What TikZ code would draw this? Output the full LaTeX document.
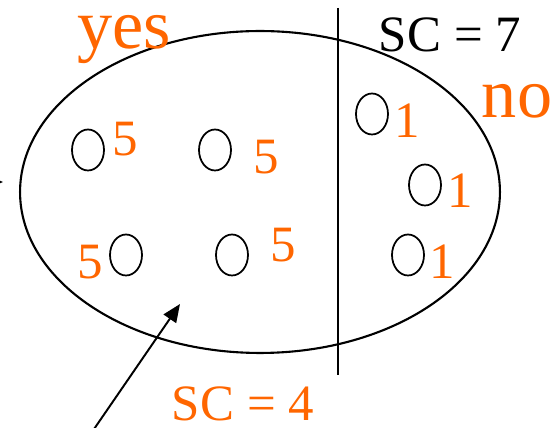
\documentclass[tikz,border=0pt]{standalone}
\usepackage{fontspec}
\setmainfont{Liberation Serif}
\usepackage{xcolor}
\definecolor{vorange}{RGB}{255, 102, 0}
\usetikzlibrary{shapes, arrows.meta, positioning}

\begin{document}
\begin{tikzpicture}[
    x=0.02cm, y=-0.02cm,
    arr/.style={-{Triangle[length=3.6mm, width=3mm]}, line width=1.1pt},
    voter/.style={draw, ellipse, line width=1pt, inner sep=0pt,
          minimum width=0.64cm, minimum height=0.82cm},
    val/.style={text=vorange, inner sep=0pt, font=\fontsize{29}{34}\selectfont},
    lbl/.style={inner sep=0pt, anchor=base, font=\fontsize{29}{34}\selectfont},
    side/.style={inner sep=0pt, anchor=base, text=vorange,
          font=\fontsize{40}{46}\selectfont}
  ]
    \useasboundingbox (0,0) rectangle (558,428);

    % the whole set and the cut
    \node[draw, ellipse, line width=1.2pt, minimum width=9.6cm,
          minimum height=6.44cm] (set) at (260,192) {};
    \coordinate (cuttop) at (338,8);
    \coordinate (cutbot) at (338,375);
    \draw[line width=1.1pt] (cuttop) -- (cutbot);

    % labels
    \node[side] (yes) at (124,49) {yes};
    \node[side] (no) at (517,118) {no};
    \node[lbl] (sc7) at (450,52) {SC = 7};
    \node[lbl, text=vorange] (sc4) at (243,421) {SC = 4};

    % voters on the yes side
    \node[voter] (a1) at (88,150) {};
    \node[voter] (a2) at (215,150) {};
    \node[voter] (a3) at (126,255) {};
    \node[voter] (a4) at (232,255) {};
    \node[val] at (125,139) {5};
    \node[val] at (266,157) {5};
    \node[val] at (90,262) {5};
    \node[val] at (283,245) {5};

    % voters on the no side
    \node[voter] (b1) at (372,114) {};
    \node[voter] (b2) at (425,185) {};
    \node[voter] (b3) at (408,255) {};
    \node[val] at (407,121) {1};
    \node[val] at (460,191) {1};
    \node[val] at (442,262) {1};

    % pointers
    \coordinate (ptail) at (92,432);
    \coordinate (ptip) at (180,304);
    \draw[arr] (ptail) -- (ptip);
    \coordinate (ltail) at (-30,182);
    \coordinate (ltip) at (3,182);
    \draw[arr] (ltail) -- (ltip);
  \end{tikzpicture}
\end{document}
